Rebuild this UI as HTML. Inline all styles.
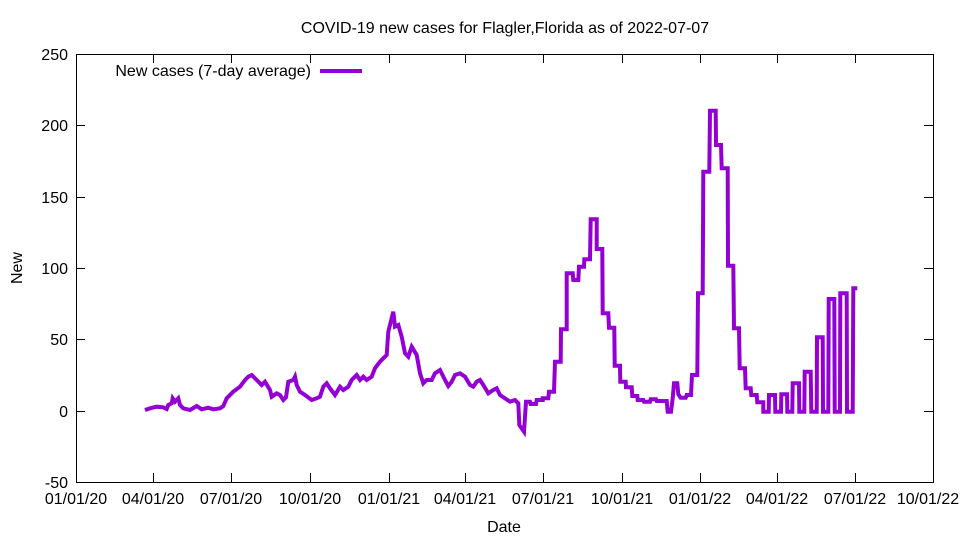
<!DOCTYPE html>
<html><head><meta charset="utf-8"><style>body{margin:0;background:#fff}svg{display:block}text{font-family:"Liberation Sans",sans-serif;font-size:16px;fill:#000}</style></head><body>
<svg width="960" height="540" viewBox="0 0 960 540">
<rect x="76.5" y="54.5" width="857" height="428" fill="none" stroke="#000" stroke-width="1"/>
<g stroke="#000" stroke-width="1">
<path d="M76 482.5h9M924 482.5h9M76 411.5h9M924 411.5h9M76 339.5h9M924 339.5h9M76 268.5h9M924 268.5h9M76 197.5h9M924 197.5h9M76 125.5h9M924 125.5h9M76 54.5h9M924 54.5h9"/>
<path d="M76.5 482v-9M76.5 54v9M153.5 482v-9M153.5 54v9M231.5 482v-9M231.5 54v9M310.5 482v-9M310.5 54v9M389.5 482v-9M389.5 54v9M465.5 482v-9M465.5 54v9M543.5 482v-9M543.5 54v9M622.5 482v-9M622.5 54v9M700.5 482v-9M700.5 54v9M777.5 482v-9M777.5 54v9M855.5 482v-9M855.5 54v9M933.5 482v-9M933.5 54v9"/>
</g>
<g text-anchor="end">
<text x="68" y="488">-50</text><text x="68" y="417">0</text><text x="68" y="345">50</text><text x="68" y="274">100</text><text x="68" y="203">150</text><text x="68" y="131">200</text><text x="68" y="60">250</text>
</g>
<g text-anchor="middle">
<text x="76" y="504">01/01/20</text><text x="153" y="504">04/01/20</text><text x="231" y="504">07/01/20</text><text x="310" y="504">10/01/20</text><text x="389" y="504">01/01/21</text><text x="465" y="504">04/01/21</text><text x="543" y="504">07/01/21</text><text x="622" y="504">10/01/21</text><text x="700" y="504">01/01/22</text><text x="777" y="504">04/01/22</text><text x="855" y="504">07/01/22</text><text x="928" y="504">10/01/22</text>
<text x="504" y="532">Date</text>
<text x="505" y="33">COVID-19 new cases for Flagler,Florida as of 2022-07-07</text>
</g>
<text x="22" y="268" text-anchor="middle" transform="rotate(-90 22 268)">New</text>
<text x="311" y="76" text-anchor="end">New cases (7-day average)</text>
<line x1="320" y1="71" x2="362" y2="71" stroke="#9400d3" stroke-width="4"/>
<polyline fill="none" stroke="#9400d3" stroke-width="4" stroke-linejoin="miter" points="145,410 150,408.3 156.7,406.7 163.3,407.3 166.7,409 168.3,405 171.7,403.3 172.7,398.3 175,401.7 178.3,398.3 180,405 183.3,408.3 190,410 196.7,406 201.7,409.3 208.3,407.7 213.3,409.3 220,408.3 223.3,406 226.7,398.3 233.3,391.7 240,386.7 245,380 248.3,376.7 251.7,375 256.7,380 261.7,385 265,381.7 270,390 271.7,396.7 276.7,393.3 280,395 283.3,400 286,397.3 288.3,381.7 293.3,380 295,376.7 296.7,385 300,391.7 305,395 311.7,400 316.7,398.3 320,396.7 323.3,386.7 326.7,383.3 330,388.3 335,395 340,386.7 343.3,390 348.3,386.7 351.7,380 356.7,375 360,380 363.3,376.7 366.7,380 371.7,376.7 375,368.3 380,361.7 383.3,358.3 386.7,355 388.3,331.7 393.3,311.7 395,326.7 398.3,325 401.7,336.7 405,353.3 408.3,356.7 411.7,346.7 416.7,355 420,373.3 423.3,383.3 426.7,380 431.7,380 435,373.3 440,370 445,380 448.3,386 451.7,381.7 455,375 460,373.3 465,376.7 470,385 473.3,386.7 476.7,381.7 480,380 483.3,385 488.3,393.3 493.3,390 496.7,388.3 500,395 510,401.7 515,400 518.3,403.3 519.3,425 524,431.7 526,401.7 530,401.7 530.7,404 536,404 536.7,400 542.7,400 542.7,398.3 548.3,398.3 549,391.7 554,391.7 555,361.7 560.7,361.7 561,329.3 566.7,329.3 566.7,273.3 572.7,273.3 573.3,280 578.3,280 579,266.7 584,266.7 584.3,259.3 590,259.3 590.7,219.3 596.7,219.3 596.7,249 602.3,249 602.7,313.3 608.3,313.3 609,327.7 614.3,327.7 614.7,365.7 620,365.7 620.3,381.7 625.7,381.7 626,387.3 631.7,387.3 632.3,396 637.3,396 637.7,400 643.3,400 644,401.7 650,401.7 650.7,399.3 656,399.3 656.7,401 666.7,401 667.7,411.7 671,411.7 672.7,398.3 674,383.3 677.3,383.3 678.3,394.3 680.7,397.7 685.7,397.7 686.7,395 691,395 692,375 697.3,375 698,293.3 702.7,293.3 703.3,171.7 709.3,171.7 710,110.7 715.7,110.7 716,145 721,145 721.7,168.3 727.7,168.3 728,265.7 733.3,265.7 734,328.3 739,328.3 739.7,368.3 745,368.3 745.7,388.3 750.7,388.3 751.3,395 756.7,395 757.3,402.3 763.3,402.3 763.3,411.7 768.7,411.7 769,395 775,395 775.3,411.7 781,411.7 781.3,394.3 787,394.3 787.3,411.7 792.3,411.7 792.7,383.3 799,383.3 799.3,411.7 804.3,411.7 804.7,371.7 810.7,371.7 811.3,411.7 816.7,411.7 817,337.3 822.7,337.3 823,411.7 828.3,411.7 828.7,299 834.3,299 834.7,411.7 840,411.7 840.3,293.3 846.7,293.3 847,411.7 852.7,411.7 853.3,288.3 857.3,288.3"/>
</svg>
</body></html>
